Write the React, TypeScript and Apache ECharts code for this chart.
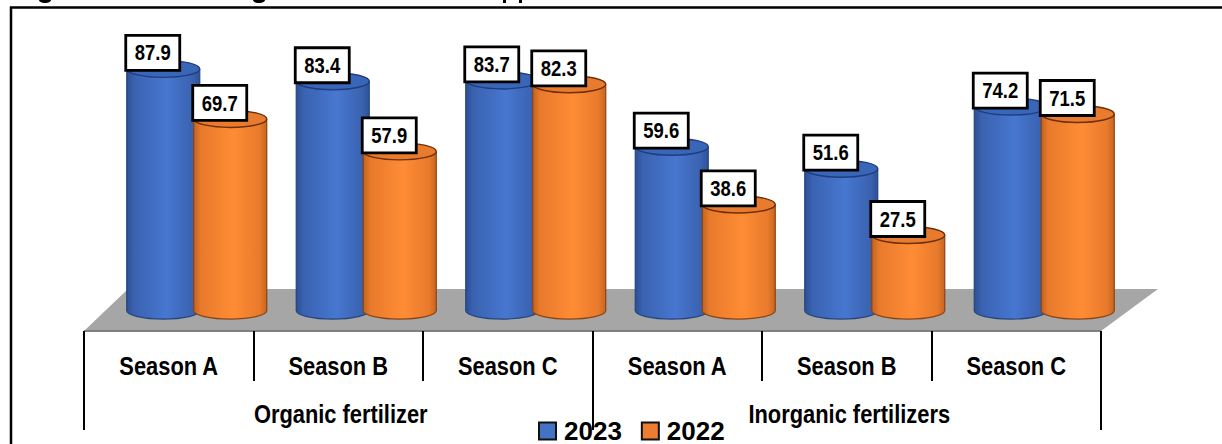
import React, { useEffect, useRef } from "react";
import * as echarts from "echarts";

const seasons = ["Season A", "Season B", "Season C", "Season A", "Season B", "Season C"];
const groups = ["Organic fertilizer", "Inorganic fertilizers"];
const values2023 = [87.9, 83.4, 83.7, 59.6, 51.6, 74.2];
const values2022 = [69.7, 57.9, 82.3, 38.6, 27.5, 71.5];

const FONT = "'Liberation Sans', Arial, sans-serif";

const grad = (a: string, b: string, c: string, d: string) => ({
  type: "linear", x: 0, y: 0, x2: 1, y2: 0,
  colorStops: [
    { offset: 0, color: a }, { offset: 0.1, color: b }, { offset: 0.55, color: c },
    { offset: 0.9, color: b }, { offset: 1, color: d },
  ],
});

const cylinder = (offsetRatio: number, fill: any, cap: string, rim: string, edge: string) =>
  (_p: any, api: any) => {
    const band = api.size([1, 0])[0];
    const [cx0, top] = api.coord([api.value(0), api.value(1)]);
    const [, base] = api.coord([api.value(0), 0]);
    const cx = cx0 + band * offsetRatio;
    const rx = 36.5, ry = 8.5;
    const line = (x: number) => ({
      type: "line",
      shape: { x1: x, y1: top, x2: x, y2: base },
      style: { stroke: edge, lineWidth: 1.2 },
    });
    return {
      type: "group",
      children: [
        { type: "ellipse", shape: { cx, cy: base, rx, ry }, style: { fill, stroke: edge, lineWidth: 1.2 } },
        { type: "rect", shape: { x: cx - rx, y: top, width: rx * 2, height: base - top }, style: { fill } },
        line(cx - rx),
        line(cx + rx),
        { type: "ellipse", shape: { cx, cy: top, rx, ry }, style: { fill: cap, stroke: rim, lineWidth: 1.4 } },
      ],
    };
  };

const labelBox = (offsetRatio: number) => (_p: any, api: any) => {
  const band = api.size([1, 0])[0];
  const [cx0, top] = api.coord([api.value(0), api.value(1)]);
  const cx = cx0 + band * offsetRatio - 10.5;
  const cy = top - 16;
  return {
    type: "group",
    children: [
      { type: "rect", shape: { x: cx - 27, y: cy - 17.5, width: 54, height: 35 }, style: { fill: "#fff", stroke: "#000", lineWidth: 2.8 } },
      {
        type: "text", x: cx, y: cy, scaleX: 0.84,
        style: {
          x: 0, y: 0, text: api.value(1).toFixed(1), align: "center", verticalAlign: "middle",
          fill: "#000", font: `bold 22px ${FONT}`,
        },
      },
    ],
  };
};

const axisText = (texts: string[], y: number, scaleX: number, shift: number) => (_p: any, api: any) => {
  const i = api.value(0);
  const [cx] = api.coord([i, 0]);
  return {
    type: "text", x: cx + shift, y, scaleX,
    style: {
      x: 0, y: 0, text: texts[i], align: "center", verticalAlign: "middle",
      fill: "#000", font: `bold 25px ${FONT}`,
    },
  };
};

const pairs = (vals: number[]) => vals.map((v, i) => [i, v]);
const indexRows = (names: string[]) => names.map((_n, i) => [i, 0]);

export default function App() {
  const ref = useRef<HTMLDivElement>(null);
  useEffect(() => {
    const chart = echarts.init(ref.current!, undefined, { renderer: "svg" });
    const BLUE = grad("#2b4f94", "#3a62b0", "#4777d0", "#2d5296");
    const ORANGE = grad("#c2621f", "#e87a2c", "#ff8c35", "#c9661f");
    chart.setOption({
      animation: false,
      backgroundColor: "#fff",
      grid: { left: 84, right: 121, top: 35.6, bottom: 133.4 },
      xAxis: [
        {
          type: "category", data: seasons, position: "bottom", offset: 20.4,
          axisLine: { show: false, onZero: false },
          axisTick: { show: true, length: 50, lineStyle: { color: "#000", width: 2 } },
          axisLabel: { show: false },
        },
        {
          type: "category", data: groups, position: "bottom", offset: 20.4,
          axisLine: { show: false, onZero: false },
          axisTick: { show: true, length: 99, lineStyle: { color: "#000", width: 2 } },
          axisLabel: { show: false },
        },
      ],
      yAxis: { type: "value", min: 0, max: 100, show: false },
      legend: {
        data: ["2023", "2022"], left: 538, top: 418, padding: 0, itemWidth: 17, itemHeight: 17, itemGap: 19,
        icon: "rect", selectedMode: false,
        itemStyle: { borderColor: "#111", borderWidth: 2 },
        textStyle: { color: "#000", fontFamily: FONT, fontWeight: "bold", fontSize: 26, lineHeight: 24, padding: [0, 0, 0, 3] },
      },
      graphic: [
        { type: "rect", z: -1, shape: { x: 11, y: 7.5, width: 1300, height: 500 }, style: { fill: "#fff", stroke: "#000", lineWidth: 2.5 } },
        { type: "polygon", z: 0, shape: { points: [[84, 331], [1101, 331], [1158, 289], [128, 289]] }, style: { fill: "#a6a6a6" } },
        { type: "line", z: 0, shape: { x1: 84, y1: 331, x2: 1101, y2: 331 }, style: { stroke: "#808080", lineWidth: 2 } },
        { type: "ellipse", z: 0, shape: { cx: 45, cy: 0, rx: 6, ry: 3 }, style: { fill: "#000" } },
        { type: "ellipse", z: 0, shape: { cx: 259, cy: 0, rx: 6, ry: 3 }, style: { fill: "#000" } },
        { type: "rect", z: 0, shape: { x: 503, y: 0, width: 3, height: 3 }, style: { fill: "#000" } },
        { type: "rect", z: 0, shape: { x: 519, y: 0, width: 3, height: 3 }, style: { fill: "#000" } },
      ],
      series: [
        { name: "2023", type: "custom", data: pairs(values2023), itemStyle: { color: "#4472c4" }, renderItem: cylinder(-5.5 / 169.5, BLUE, "#3a66b8", "#1f3d80", "#25467f"), clip: false },
        { name: "2022", type: "custom", data: pairs(values2022), itemStyle: { color: "#ed7d31" }, renderItem: cylinder(61.5 / 169.5, ORANGE, "#e87b2e", "#6e2f08", "#8a4412"), clip: false },
        { name: "labels2023", type: "custom", data: pairs(values2023), renderItem: labelBox(-5.5 / 169.5), clip: false },
        { name: "labels2022", type: "custom", data: pairs(values2022), renderItem: labelBox(61.5 / 169.5), clip: false },
        { name: "seasonLabels", type: "custom", xAxisIndex: 0, data: indexRows(seasons), renderItem: axisText(seasons, 366, 0.875, 0), clip: false },
        { name: "groupLabels", type: "custom", xAxisIndex: 1, data: indexRows(groups), renderItem: axisText(groups, 414, 0.875, 2.5), clip: false },
      ],
    });
    return () => chart.dispose();
  }, []);
  return <div ref={ref} style={{ position: "fixed", left: 0, top: 0, width: 1222, height: 444 }} />;
}
